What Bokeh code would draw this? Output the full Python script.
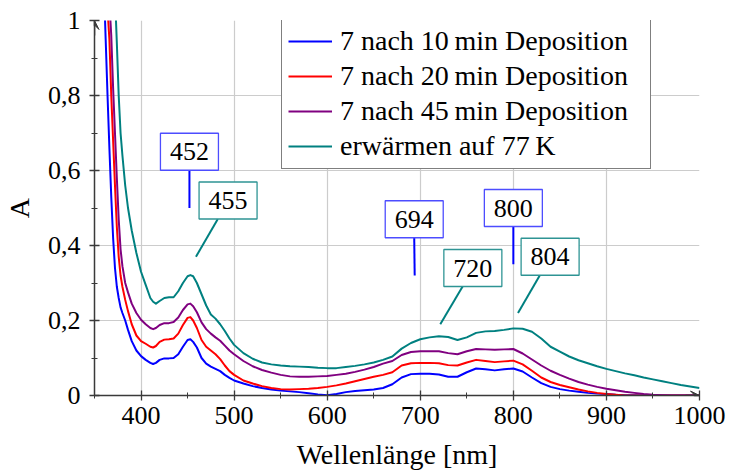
from bokeh.plotting import figure
from bokeh.models import (Range1d, FixedTicker, Legend, LegendItem, Arrow,
                          VeeHead, ColumnDataSource)
from bokeh.embed import file_html
from bokeh.resources import INLINE
from bokeh.core.properties import value

# ---------------- data ----------------
wavelength = [355, 360, 362, 364, 366, 368, 370, 372, 374, 376, 378, 380, 383, 386, 390, 395,
              400, 405, 410, 413, 416, 420, 425, 430, 435, 440, 445, 450, 453, 456, 460, 465,
              470, 475, 480, 485, 490, 495, 500, 510, 520, 530, 540, 550, 560, 570, 580, 590,
              600, 610, 620, 630, 640, 650, 660, 670, 680, 690, 700, 710, 720, 730, 740, 750,
              760, 770, 780, 790, 800, 810, 820, 830, 840, 850, 860, 870, 880, 890, 900, 910,
              920, 930, 940, 950, 960, 970, 980, 990, 1000]

a_10min = [1.6, 1.1, 0.95, 0.8, 0.66, 0.53, 0.42, 0.34, 0.29, 0.26, 0.235, 0.22, 0.2, 0.175, 0.145, 0.12,
           0.105, 0.095, 0.087, 0.084, 0.087, 0.095, 0.099, 0.099, 0.1, 0.11, 0.13, 0.148, 0.15, 0.143, 0.128, 0.1,
           0.085, 0.077, 0.071, 0.065, 0.055, 0.047, 0.04, 0.032, 0.025, 0.02, 0.016, 0.013, 0.011, 0.009, 0.006, 0.003,
           0.001, 0.004, 0.009, 0.012, 0.014, 0.016, 0.02, 0.03, 0.048, 0.057, 0.058, 0.058, 0.056, 0.05, 0.05, 0.062,
           0.072, 0.07, 0.067, 0.07, 0.072, 0.064, 0.048, 0.033, 0.023, 0.017, 0.013, 0.01, 0.007, 0.005, 0.004, 0.002,
           0.001, 0.001, 0.0, 0.0, 0.0, 0.0, 0.0, 0.0, 0.0]

a_20min = [1.8, 1.3, 1.15, 1.03, 0.95, 0.8, 0.68, 0.56, 0.45, 0.37, 0.32, 0.29, 0.255, 0.225, 0.19, 0.16,
           0.145, 0.138, 0.13, 0.128, 0.132, 0.143, 0.149, 0.15, 0.152, 0.165, 0.188, 0.207, 0.209, 0.2, 0.18, 0.148,
           0.13, 0.12, 0.11, 0.097, 0.08, 0.065, 0.055, 0.04, 0.032, 0.025, 0.02, 0.017, 0.016, 0.017, 0.018, 0.02,
           0.023, 0.027, 0.032, 0.038, 0.044, 0.05, 0.055, 0.062, 0.08, 0.086, 0.087, 0.087, 0.086, 0.081, 0.08, 0.088,
           0.095, 0.092, 0.089, 0.091, 0.093, 0.083, 0.066, 0.048, 0.036, 0.028, 0.022, 0.016, 0.011, 0.007, 0.004, 0.002,
           0.0, 0.0, 0.0, 0.0, 0.0, 0.0, 0.0, 0.0, 0.0]

a_45min = [2.0, 1.4, 1.25, 1.15, 1.05, 0.96, 0.82, 0.7, 0.58, 0.47, 0.39, 0.345, 0.3, 0.275, 0.245, 0.22,
           0.202, 0.19, 0.18, 0.177, 0.18, 0.188, 0.193, 0.193, 0.196, 0.208, 0.228, 0.243, 0.245, 0.238, 0.222, 0.195,
           0.177, 0.165, 0.155, 0.146, 0.133, 0.12, 0.11, 0.092, 0.078, 0.068, 0.061, 0.055, 0.051, 0.05, 0.05, 0.051,
           0.052, 0.055, 0.058, 0.063, 0.069, 0.076, 0.085, 0.092, 0.108, 0.116, 0.118, 0.118, 0.118, 0.113, 0.11, 0.118,
           0.124, 0.123, 0.122, 0.123, 0.124, 0.112, 0.096, 0.08, 0.066, 0.055, 0.045, 0.036, 0.029, 0.023, 0.018, 0.014,
           0.01, 0.007, 0.004, 0.002, 0.001, 0.0, 0.0, 0.0, 0.0]

a_77K = [2.5, 2.0, 1.85, 1.7, 1.5, 1.35, 1.2, 1.07, 0.94, 0.8, 0.7, 0.64, 0.56, 0.5, 0.44, 0.38,
         0.33, 0.295, 0.26, 0.25, 0.245, 0.252, 0.26, 0.262, 0.262, 0.278, 0.3, 0.318, 0.321, 0.318, 0.3, 0.27,
         0.24, 0.216, 0.205, 0.19, 0.172, 0.152, 0.135, 0.113, 0.098, 0.088, 0.083, 0.08, 0.078, 0.077, 0.076, 0.074,
         0.073, 0.073, 0.076, 0.079, 0.083, 0.088, 0.095, 0.104, 0.125, 0.14, 0.15, 0.155, 0.158, 0.156, 0.148, 0.155,
         0.167, 0.171, 0.172, 0.175, 0.179, 0.178, 0.17, 0.152, 0.13, 0.117, 0.104, 0.094, 0.086, 0.078, 0.071, 0.065,
         0.059, 0.054, 0.048, 0.043, 0.038, 0.033, 0.028, 0.024, 0.02]

series_labels = ["7 nach 10\u2009min Deposition", "7 nach 20\u2009min Deposition",
                 "7 nach 45\u2009min Deposition", "erwärmen auf 77\u2009K"]
series_colors = ["#0000ff", "#ff0000", "#800080", "#008080"]

x_ticks = [400, 500, 600, 700, 800, 900, 1000]
y_ticks = [0, 0.2, 0.4, 0.6, 0.8, 1.0]
y_tick_labels = ["0", "0,2", "0,4", "0,6", "0,8", "1"]
x_title = "Wellenlänge [nm]"
y_title = "A"

# peak annotations: text, series, tip of leader line, box centre
peak_text = ["452", "455", "694", "720", "800", "804"]
peak_series = [0, 3, 0, 3, 0, 3]
tip_x = [452, 459, 694, 721.5, 800, 805]
tip_y = [0.50, 0.37, 0.32, 0.19, 0.35, 0.22]
box_x = [452, 493.5, 693.5, 756.5, 800, 839.5]
box_y = [0.65, 0.52, 0.47, 0.34, 0.50, 0.37]

FONT = "Liberation Serif"
AXIS_COL = "#3a3a3a"

# ---------------- figure ----------------
p = figure(width=729, height=472, x_range=Range1d(350, 1000), y_range=Range1d(0, 1),
           output_backend="svg", toolbar_location=None,
           min_border_left=93, min_border_right=30, min_border_top=20, min_border_bottom=77)
p.outline_line_color = None
p.background_fill_color = "white"

minor_x = list(range(350, 1001, 50))
minor_y = [i / 10 for i in range(0, 11)]
p.xaxis.ticker = FixedTicker(ticks=x_ticks, minor_ticks=minor_x)
p.yaxis.ticker = FixedTicker(ticks=y_ticks, minor_ticks=minor_y)
p.yaxis.major_label_overrides = {t: l for t, l in zip(y_ticks, y_tick_labels)}

for ax in (p.xaxis, p.yaxis):
    ax.axis_line_color = AXIS_COL
    ax.axis_line_width = 1.5
    ax.major_tick_line_color = AXIS_COL
    ax.minor_tick_line_color = AXIS_COL
    ax.major_tick_line_width = 1.3
    ax.minor_tick_line_width = 1.0
    ax.major_tick_in = 5
    ax.major_tick_out = 5
    ax.minor_tick_in = 3
    ax.minor_tick_out = 3
    ax.major_label_text_font = FONT
    ax.major_label_text_font_size = "26px"
    ax.major_label_text_color = "black"
    ax.axis_label_text_font = FONT
    ax.axis_label_text_font_size = "28px"
    ax.axis_label_text_font_style = "normal"
    ax.axis_label_text_color = "black"
p.xaxis.major_label_standoff = 6
p.yaxis.major_label_standoff = 9
p.yaxis.major_label_orientation = "horizontal"
p.xaxis.axis_label = x_title
p.yaxis.axis_label = y_title
p.xaxis.axis_label_standoff = 12
p.yaxis.axis_label_standoff = 10

p.grid.grid_line_color = "#cccccc"
p.grid.grid_line_width = 1.2

# curves
renderers = []
for vals, col in zip([a_10min, a_20min, a_45min, a_77K], series_colors):
    r = p.line(wavelength, vals, line_color=col, line_width=2, line_join="round")
    renderers.append(r)

# peak annotations
px_per_A = 375.0
half_h = 18.5 / px_per_A
lead_dx = 11.0
x0 = []
y0 = []
cols = []
for tx, ty, bx, by, s in zip(tip_x, tip_y, box_x, box_y, peak_series):
    cols.append(series_colors[s])
    x0.append(bx if s == 0 else bx - lead_dx)
    y0.append(by - half_h)
seg_src = ColumnDataSource(dict(x0=x0, y0=y0, x1=tip_x, y1=tip_y, c=cols))
p.segment(x0="x0", y0="y0", x1="x1", y1="y1", line_color="c", line_width=2, source=seg_src)

box_line = ["#4d4dff" if s == 0 else "#2e9494" for s in peak_series]
box_src = ColumnDataSource(dict(x=box_x, y=box_y, t=peak_text, lc=box_line))
p.rect(x="x", y="y", width=58, height=37, width_units="screen", height_units="screen",
       fill_color="white", line_color="lc", line_width=1.3, source=box_src)
p.text(x="x", y="y", text="t", text_align="center", text_baseline="middle",
       text_font=value(FONT), text_font_size="26px", text_color="black", source=box_src)

# axis arrows
p.add_layout(Arrow(end=VeeHead(size=9, fill_color=AXIS_COL, line_color=AXIS_COL, line_width=1),
                   x_start=350, y_start=0.96, x_end=350, y_end=1.0,
                   line_color=AXIS_COL, line_width=1.5))
p.add_layout(Arrow(end=VeeHead(size=9, fill_color=AXIS_COL, line_color=AXIS_COL, line_width=1),
                   x_start=985, y_start=0, x_end=1000, y_end=0,
                   line_color=AXIS_COL, line_width=1.5))

# legend
legend = Legend(items=[LegendItem(label=l, renderers=[r]) for l, r in zip(series_labels, renderers)],
                location=(187, 226))
legend.label_text_font = FONT
legend.label_text_font_size = "28px"
legend.label_text_color = "black"
legend.glyph_width = 44
legend.glyph_height = 30
legend.label_height = 30
legend.label_width = 304
legend.label_standoff = 8
legend.spacing = 3
legend.padding = 6
legend.margin = 0
legend.border_line_color = "black"
legend.border_line_width = 1
legend.background_fill_alpha = 1.0
p.add_layout(legend)

open("out.html", "w").write(file_html(p, INLINE))
